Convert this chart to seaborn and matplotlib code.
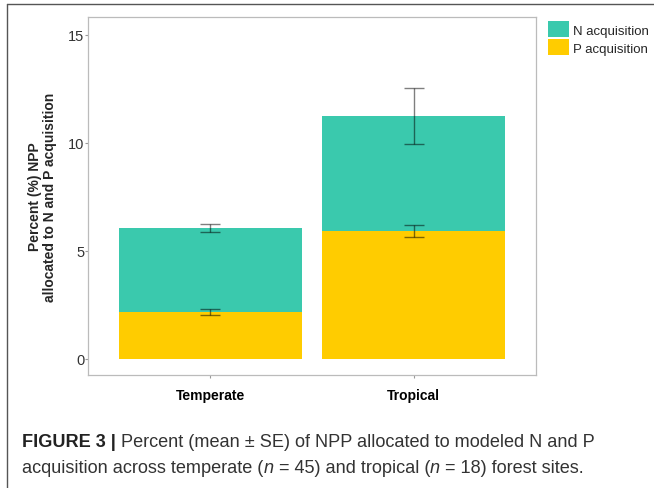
import matplotlib
matplotlib.use("Agg")
import matplotlib.pyplot as plt
import seaborn as sns
import pandas as pd
from matplotlib.patches import Patch
from matplotlib.lines import Line2D

# ---- data ----
categories = ["Temperate", "Tropical"]
p_mean = [2.18, 5.93]
n_mean = [3.88, 5.32]
p_se = [0.14, 0.28]
n_se = [0.165, 1.30]
series_labels = ["N acquisition", "P acquisition"]
y_ticks = [0, 5, 10, 15]

teal = "#3AC9AD"
yellow = "#FFCC00"

sns.set_theme(style="white")
plt.rcParams["font.family"] = ["Liberation Sans", "DejaVu Sans"]

totals = [p + n for p, n in zip(p_mean, n_mean)]
df = pd.DataFrame({"site": categories, "total": totals, "P": p_mean})

fig = plt.figure(figsize=(6.54, 4.89), dpi=100)
ax = fig.add_axes([88/654, 1-376/489, (536-88)/654, (376-18)/489])

sns.barplot(data=df, x="site", y="total", order=categories, color=teal,
            width=0.9, saturation=1, ax=ax, linewidth=0)
sns.barplot(data=df, x="site", y="P", order=categories, color=yellow,
            width=0.9, saturation=1, ax=ax, linewidth=0)

xpos = list(range(len(categories)))
ax.errorbar(xpos, totals, yerr=n_se, fmt="none", ecolor=(0, 0, 0, 0.5),
            elinewidth=1, capsize=7, capthick=1, zorder=5)
ax.errorbar(xpos, p_mean, yerr=p_se, fmt="none", ecolor=(0, 0, 0, 0.5),
            elinewidth=1, capsize=7, capthick=1, zorder=5)

ax.set_xlim(-0.6, 1.6)
ax.set_ylim(-0.75, 15.83)
ax.set_yticks(y_ticks)
ax.set_yticklabels([str(t) for t in y_ticks], fontsize=10.5, color="#333333")
ax.set_xticks(xpos)
ax.set_xticklabels(categories, fontsize=10, fontweight="bold", color="black")
ax.set_xlabel("")
ax.set_ylabel("Percent (%) NPP\nallocated to N and P acquisition",
              fontsize=10, fontweight="bold", labelpad=7.5, linespacing=1.1)
for s in ax.spines.values():
    s.set_color("#BBBBBB")
    s.set_linewidth(0.9)
ax.tick_params(axis="both", which="both", length=2.2, width=0.8, color="#999999",
               left=True, bottom=True)
ax.tick_params(axis="y", pad=0.5)
ax.tick_params(axis="x", pad=7)

handles = [Patch(facecolor=teal, edgecolor="none"),
           Patch(facecolor=yellow, edgecolor="none")]
fig.legend(handles, series_labels, loc="upper left",
           bbox_to_anchor=(543/654, 1-17/489), frameon=False, fontsize=9.5,
           handlelength=1.55, handleheight=1.5, handletextpad=0.3,
           labelspacing=0.15, borderaxespad=0)

# outer frame lines (top and left)
fig.add_artist(Line2D([7/654, 1], [1-5/489, 1-5/489], transform=fig.transFigure,
                      color="#555555", linewidth=1))
fig.add_artist(Line2D([7/654, 7/654], [0, 1-5/489], transform=fig.transFigure,
                      color="#555555", linewidth=1))

# caption
fig.canvas.draw()
renderer = fig.canvas.get_renderer()

def runs(parts, x0, y0, size, draw=True):
    x = x0
    made = []
    for txt, kw in parts:
        opts = {"color": "#333333"}
        opts.update(kw)
        t = fig.text(x, y0, txt, fontsize=size, va="baseline",
                     transform=fig.transFigure, **opts)
        bb = t.get_window_extent(renderer=renderer)
        x = x + bb.width / fig.bbox.width
        made.append(t)
    if not draw:
        for t in made:
            t.remove()
    return (x - x0) * fig.bbox.width

line1 = [("FIGURE 3 |", {"fontweight": "bold", "color": "#222222"}),
         (" Percent (mean \u00b1 SE) of NPP allocated to modeled N and P", {})]
line2 = [("acquisition across temperate (", {}),
         ("n", {"style": "italic"}),
         (" = 45) and tropical (", {}),
         ("n", {"style": "italic"}),
         (" = 18) forest sites.", {})]

base = 13.0
w = runs(line1, 22/654, 1-447/489, base, draw=False)
cs = base * 574.0 / w
runs(line1, 22/654, 1-447/489, cs)
runs(line2, 22/654, 1-473/489, cs)

fig.savefig("out.png", dpi=100)
